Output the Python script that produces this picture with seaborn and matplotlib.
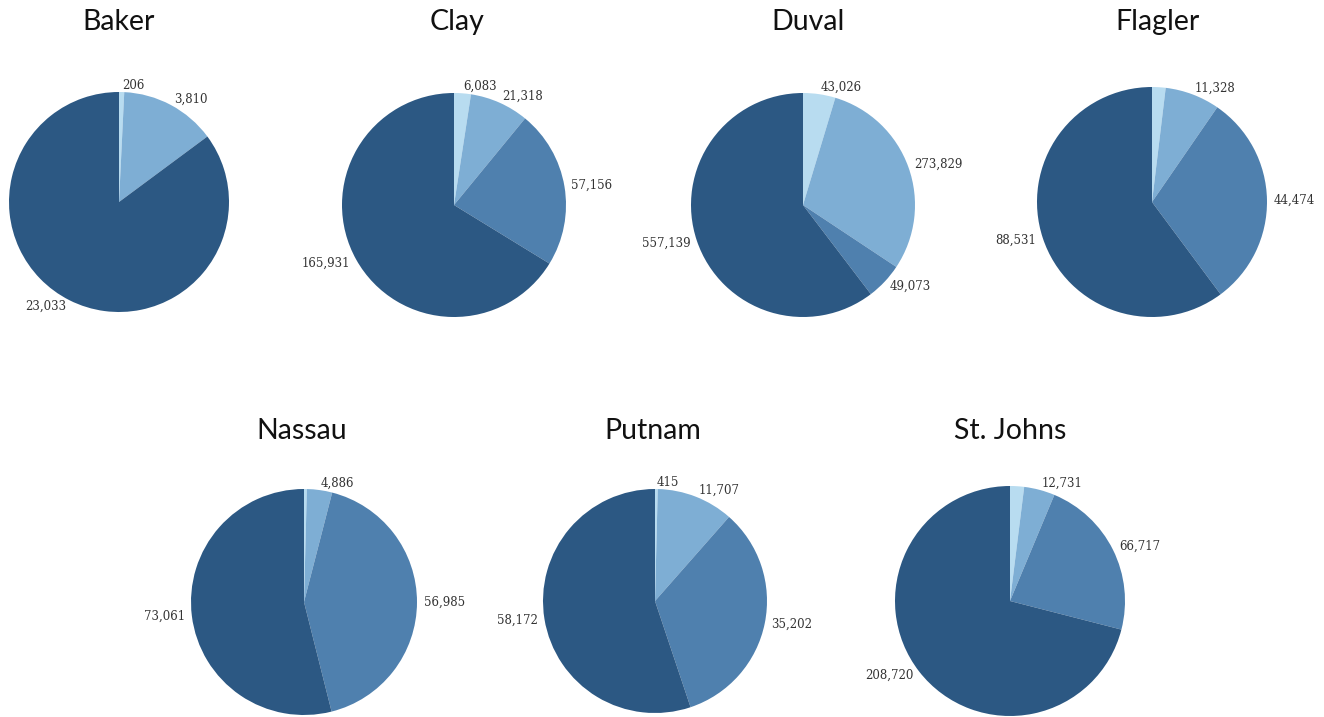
import numpy as np
import matplotlib
matplotlib.use("Agg")
import matplotlib.pyplot as plt
import seaborn as sns

# ---- data ----
counties = ["Baker", "Clay", "Duval", "Flagler", "Nassau", "Putnam", "St. Johns"]
cat1 = [206, 6083, 43026, 2800, 550, 415, 5800]          # lightest
cat2 = [3810, 21318, 273829, 11328, 4886, 11707, 12731]  # light
cat3 = [0, 57156, 49073, 44474, 56985, 35202, 66717]     # medium
cat4 = [23033, 165931, 557139, 88531, 73061, 58172, 208720]  # dark
# labels not shown in the reference (slice index 0 = lightest)
hidden_labels = {"Flagler": [0], "Nassau": [0], "St. Johns": [0]}

sns.set_theme(style="white")
palette = sns.color_palette(["#b8dcf0", "#7eaed4", "#4f80ae", "#2c5883"])

W, H = 1324, 717
fig = plt.figure(figsize=(W / 100, H / 100), dpi=100)
fig.patch.set_facecolor("white")

# layout (pixel centres, radii, title positions)
centers = [(119, 202), (454, 205), (803, 205), (1152, 202),
           (304, 602), (655, 601), (1010, 601)]
radii = [110, 112, 112, 115, 113, 112, 115]
title_pos = [(119, 22), (457, 22), (808, 22), (1158, 22),
             (302, 431), (653, 431), (1010, 431)]

for i, name in enumerate(counties):
    vals = [cat1[i], cat2[i], cat3[i], cat4[i]]
    cx, cy = centers[i]
    r = radii[i]
    ax = fig.add_axes([(cx - r) / W, 1 - (cy + r) / H, 2 * r / W, 2 * r / H])
    keep = [k for k, v in enumerate(vals) if v > 0]
    v2 = [vals[k] for k in keep]
    cols = [palette[k] for k in keep]
    labels = []
    for k in keep:
        if k in hidden_labels.get(name, []):
            labels.append("")
        else:
            labels.append(f"{vals[k]:,}")
    wedges, texts = ax.pie(v2, colors=cols, startangle=90, counterclock=False,
                           labels=labels, labeldistance=1.06, radius=1,
                           wedgeprops=dict(linewidth=0),
                           textprops=dict(family="DejaVu Serif", fontsize=8.5,
                                          color="#333333"))
    ax.set_xlim(-1, 1)
    ax.set_ylim(-1, 1)
    ax.set_aspect("equal")
    ax.axis("off")
    tx, ty = title_pos[i]
    fig.text(tx / W, 1 - ty / H, name, ha="center", va="center",
             family="Lato", fontsize=20.5, color="#111111")

fig.savefig("out.png", dpi=100, facecolor="white")
